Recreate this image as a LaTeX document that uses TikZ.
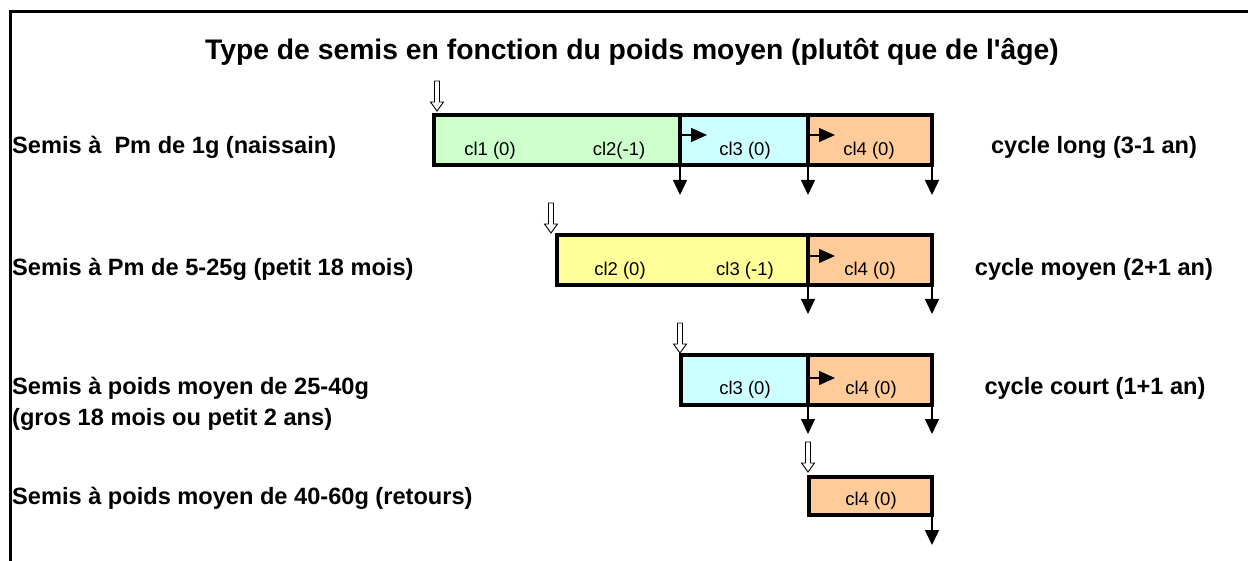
\documentclass[tikz,border=0pt]{standalone}
\usepackage{fontspec}
\setmainfont{Liberation Sans}
\usetikzlibrary{arrows.meta}
\definecolor{cgreen}{HTML}{CCFFCC}
\definecolor{ccyan}{HTML}{CCFFFF}
\definecolor{corange}{HTML}{FFCC99}
\definecolor{cyellow}{HTML}{FFFF99}
\tikzset{
  seg/.style={draw, line width=4pt, inner sep=0pt, outer sep=0pt, minimum height=50pt},
  boxtxt/.style={font=\fontsize{18.5}{20}\selectfont, anchor=base, inner sep=0pt},
  lbl/.style={font=\fontsize{23.6}{26}\selectfont\bfseries, anchor=base west, inner sep=0pt},
  cyc/.style={font=\fontsize{23.6}{26}\selectfont\bfseries, anchor=base, inner sep=0pt},
  ttl/.style={font=\fontsize{28.3}{32}\selectfont\bfseries, anchor=base, inner sep=0pt},
  dn/.style={-{Triangle[length=15pt,width=14pt]}, line width=1.3pt},
  rt/.style={-{Triangle[length=16pt,width=14pt]}, line width=1.3pt},
  hollowarrow/.pic={
    \draw[line width=0.9pt, fill=white, line join=miter]
      (-2.5,-30) -- (2.5,-30) -- (2.5,-9) -- (6.5,-9) -- (0,0) -- (-6.5,-9) -- (-2.5,-9) -- cycle;
  }
}
\begin{document}
\begin{tikzpicture}[x=1pt,y=-1pt]
\useasboundingbox (0,0) rectangle (1248,561);
% frame
\draw[line width=3pt] (10,561) -- (10,11.5) -- (1248,11.5);

% title
\node[ttl] (title) at (632,60) {Type de semis en fonction du poids moyen (plutôt que de l\textquotesingle âge)};

% left labels
\node[lbl] (l1) at (12,154) {Semis à\ \ Pm de 1g (naissain)};
\node[lbl] (l2) at (12,276) {Semis à Pm de 5-25g (petit 18 mois)};
\node[lbl] (l3) at (12,395) {Semis à poids moyen de 25-40g};
\node[lbl] (l3b) at (12,425) {(gros 18 mois ou petit 2 ans)};
\node[lbl] (l4) at (12,504) {Semis à poids moyen de 40-60g (retours)};

% right labels
\node[cyc] (r1) at (1094,154) {cycle long (3-1 an)};
\node[cyc] (r2) at (1094,276) {cycle moyen (2+1 an)};
\node[cyc] (r3) at (1095,395) {cycle court (1+1 an)};

% row 1
\node[seg, fill=cgreen, minimum width=246pt] (a1) at (557,140) {};
\node[seg, fill=ccyan, minimum width=128pt] (a2) at (744,140) {};
\node[seg, fill=corange, minimum width=124pt] (a3) at (870,140) {};
\node[boxtxt] (ta1) at (490,156) {cl1 (0)};
\node[boxtxt] (ta2) at (619,156) {cl2(-1)};
\node[boxtxt] (ta3) at (745,156) {cl3 (0)};
\node[boxtxt] (ta4) at (869,156) {cl4 (0)};

% row 2
\node[seg, fill=cyellow, minimum width=251pt] (b1) at (682.5,260) {};
\node[seg, fill=corange, minimum width=124pt] (b2) at (870,260) {};
\node[boxtxt] (tb1) at (620,276) {cl2 (0)};
\node[boxtxt] (tb2) at (745,276) {cl3 (-1)};
\node[boxtxt] (tb3) at (870,276) {cl4 (0)};

% row 3
\node[seg, fill=ccyan, minimum width=127pt] (c1) at (744.5,380) {};
\node[seg, fill=corange, minimum width=124pt] (c2) at (870,380) {};
\node[boxtxt] (tc1) at (745,395) {cl3 (0)};
\node[boxtxt] (tc2) at (871,395) {cl4 (0)};

% row 4
\node[seg, fill=corange, minimum width=123pt, minimum height=38pt] (d1) at (870.5,496) {};
\node[boxtxt] (td1) at (871,505) {cl4 (0)};

% small horizontal arrows
\coordinate (ha1s) at (680,135); \coordinate (ha1e) at (707,135);
\coordinate (ha2s) at (808,135); \coordinate (ha2e) at (835,135);
\coordinate (hb1s) at (808,256); \coordinate (hb1e) at (835,256);
\coordinate (hc1s) at (808,378); \coordinate (hc1e) at (835,378);
\draw[rt] (ha1s) -- (ha1e);
\draw[rt] (ha2s) -- (ha2e);
\draw[rt] (hb1s) -- (hb1e);
\draw[rt] (hc1s) -- (hc1e);

% down arrows
\coordinate (da1) at (680,195);
\coordinate (da2) at (808,195);
\coordinate (da3) at (932,195);
\coordinate (db1) at (808,314);
\coordinate (db2) at (932,314);
\coordinate (dc1) at (808,434);
\coordinate (dc2) at (932,434);
\coordinate (dd1) at (932,545);
\draw[dn] (a1.south east) -- (da1);
\draw[dn] (a2.south east) -- (da2);
\draw[dn] (a3.south east) -- (da3);
\draw[dn] (b1.south east) -- (db1);
\draw[dn] (b2.south east) -- (db2);
\draw[dn] (c1.south east) -- (dc1);
\draw[dn] (c2.south east) -- (dc2);
\draw[dn] (d1.south east) -- (dd1);

% hollow entry arrows
\pic at (437,111) {hollowarrow};
\pic at (551,233) {hollowarrow};
\pic at (680,353) {hollowarrow};
\pic at (808,472) {hollowarrow};
\end{tikzpicture}
\end{document}
